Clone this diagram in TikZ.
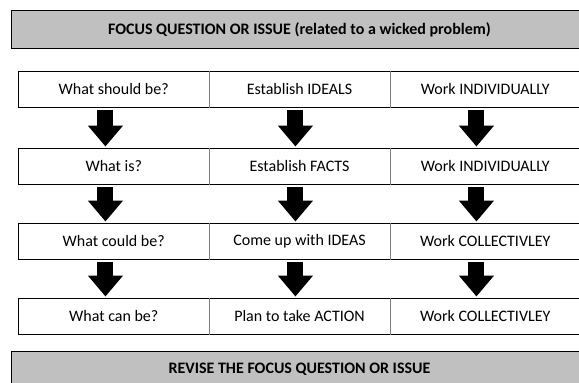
\documentclass[tikz,border=0pt]{standalone}
\usepackage{fontspec}
\setmainfont{Carlito}
\usetikzlibrary{arrows.meta}
\definecolor{boxgray}{HTML}{C0C0C0}
\definecolor{divgray}{HTML}{808080}
\begin{document}
\begin{tikzpicture}[x=1pt,y=-1pt,
  cell/.style={draw=black,line width=0.9pt,minimum height=36pt,inner sep=0pt,
     font=\fontsize{16}{18}\selectfont,anchor=north west},
  banner/.style={draw=black,fill=boxgray,line width=0.9pt,inner sep=0pt,
     font=\bfseries\fontsize{16}{18}\selectfont,anchor=north west},
  divider/.style={draw=divgray,line width=1.4pt},
  bigarrow/.style={line width=16pt,-{Triangle[width=34pt,length=21pt]},
     shorten <=2pt,shorten >=1.5pt}]
\useasboundingbox (0,0) rectangle (579,383);
% banners
\node[banner,minimum width=576pt,minimum height=38pt] (top) at (11,10)
  {FOCUS QUESTION OR ISSUE (related to a wicked problem)};
\node[banner,minimum width=576pt,minimum height=35pt] (bot) at (11,351)
  {REVISE THE FOCUS QUESTION OR ISSUE};
% table rows
\foreach \r/\y/\a/\b/\c in {
  1/71/What should be?/Establish IDEALS/Work INDIVIDUALLY,
  2/148/What is?/Establish FACTS/Work INDIVIDUALLY,
  3/223/What could be?/Come up with IDEAS/Work COLLECTIVLEY,
  4/298/What can be?/Plan to take ACTION/Work COLLECTIVLEY}{
  \node[cell,minimum width=190.6pt] (c\r1) at (18,\y) {\a};
  \node[cell,minimum width=181pt] (c\r2) at (208.6,\y) {\b};
  \node[cell,minimum width=190.4pt] (c\r3) at (389.6,\y) {\c};
  \draw[divider] (c\r1.north east) -- (c\r1.south east);
  \draw[divider] (c\r2.north east) -- (c\r2.south east);
}
% arrows
\foreach \r/\n in {1/2,2/3,3/4}{
  \draw[bigarrow] ([xshift=-8.3pt]c\r1.south) -- ([xshift=-8.3pt]c\n1.north);
  \draw[bigarrow] ([xshift=-4.1pt]c\r2.south) -- ([xshift=-4.1pt]c\n2.north);
  \draw[bigarrow] ([xshift=-8.8pt]c\r3.south) -- ([xshift=-8.8pt]c\n3.north);
}
\end{tikzpicture}
\end{document}
